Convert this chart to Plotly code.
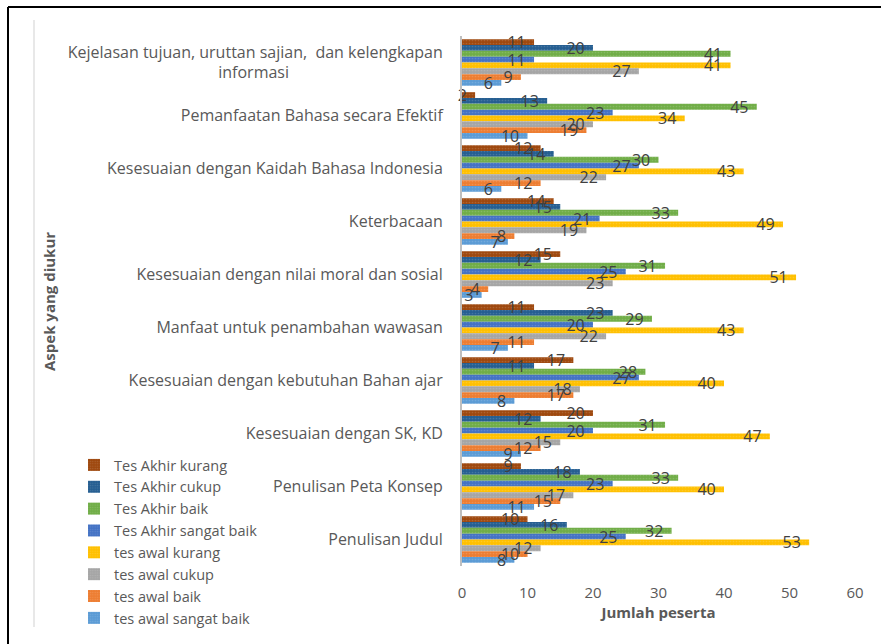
import plotly.graph_objects as go

categories = [
    "Kejelasan tujuan, uruttan sajian,  dan kelengkapan<br>informasi" + "\u00a0" * 37,
    "Pemanfaatan Bahasa secara Efektif",
    "Kesesuaian dengan Kaidah Bahasa Indonesia",
    "Keterbacaan",
    "Kesesuaian dengan nilai moral dan sosial",
    "Manfaat untuk penambahan wawasan",
    "Kesesuaian dengan kebutuhan Bahan ajar",
    "Kesesuaian dengan SK, KD",
    "Penulisan Peta Konsep",
    "Penulisan Judul",
]

series_names = [
    "Tes Akhir kurang", "Tes Akhir cukup", "Tes Akhir baik", "Tes Akhir sangat baik",
    "tes awal kurang", "tes awal cukup", "tes awal baik", "tes awal sangat baik",
]

tes_akhir_kurang = [11, 2, 12, 14, 15, 11, 17, 20, 9, 10]
tes_akhir_cukup = [20, 13, 14, 15, 12, 23, 11, 12, 18, 16]
tes_akhir_baik = [41, 45, 30, 33, 31, 29, 28, 31, 33, 32]
tes_akhir_sangat_baik = [11, 23, 27, 21, 25, 20, 27, 20, 23, 25]
tes_awal_kurang = [41, 34, 43, 49, 51, 43, 40, 47, 40, 53]
tes_awal_cukup = [27, 20, 22, 19, 23, 22, 18, 15, 17, 12]
tes_awal_baik = [9, 19, 12, 8, 4, 11, 17, 12, 15, 10]
tes_awal_sangat_baik = [6, 10, 6, 7, 3, 7, 8, 9, 11, 8]

series_values = [
    tes_akhir_kurang, tes_akhir_cukup, tes_akhir_baik, tes_akhir_sangat_baik,
    tes_awal_kurang, tes_awal_cukup, tes_awal_baik, tes_awal_sangat_baik,
]
colors = ["#9E480E", "#255E91", "#70AD47", "#4472C4",
          "#FFC000", "#A5A5A5", "#ED7D31", "#5B9BD5"]

x_ticks = [0, 10, 20, 30, 40, 50, 60]

W, H = 881, 644
L, R, T, B = 462, 26, 36, 78
pw, ph = W - L - R, H - T - B


def px(x):
    return (x - L) / pw


def py(y):
    return 1 - (y - T) / ph


FONT = "'Open Sans', sans-serif"

fig = go.Figure()
# coloured bars
for i, (name, vals, col) in enumerate(zip(series_names, series_values, colors)):
    fig.add_trace(go.Bar(
        y=categories, x=vals, name=name, orientation="h", offsetgroup=str(i),
        marker=dict(color=col, line=dict(width=0),
                    pattern=dict(shape=".", fgcolor="rgba(255,255,255,0.3)", size=3, solidity=0.25)),
        hoverinfo="skip",
    ))
# transparent twins carrying the data labels, drawn on top of all bars
for i, (name, vals) in enumerate(zip(series_names, series_values)):
    fig.add_trace(go.Bar(
        y=categories, x=vals, name=name, orientation="h", offsetgroup=str(i),
        showlegend=False, marker=dict(color="rgba(0,0,0,0)", line=dict(width=0)),
        text=[str(v) + "\u00a0\u00a0" for v in vals], textposition="inside", insidetextanchor="end",
        textangle=0, constraintext="none", cliponaxis=False,
        textfont=dict(color="#404040", size=16, family=FONT),
        insidetextfont=dict(color="#404040", size=16, family=FONT),
    ))

fig.update_layout(
    width=W, height=H,
    margin=dict(l=L, r=R, t=T, b=B, autoexpand=False),
    barmode="group", bargap=0.12, bargroupgap=0.0,
    plot_bgcolor="white", paper_bgcolor="white",
    font=dict(family=FONT, color="#595959", size=14),
    xaxis=dict(range=[0, 60], tickvals=x_ticks, showgrid=False, zeroline=False,
               showline=False, ticks="", ticklabelstandoff=16, automargin=False,
               tickfont=dict(size=15, color="#595959"),
               title=dict(text="<b>Jumlah peserta</b>", font=dict(size=15, color="#595959"), standoff=3)),
    yaxis=dict(autorange="reversed", showgrid=False, zeroline=False, showline=True,
               linecolor="#BFBFBF", linewidth=2, ticks="", ticklabelstandoff=14, automargin=False,
               tickfont=dict(size=16, color="#595959")),
    legend=dict(x=px(74), y=py(449), xanchor="left", yanchor="top",
                font=dict(size=14.5, color="#595959"), itemwidth=30, tracegroupgap=0,
                bgcolor="rgba(0,0,0,0)"),
    showlegend=True,
)

fig.add_annotation(text="<b>Aspek yang diukur</b>", xref="paper", yref="paper",
                   x=px(49), y=py(302), xanchor="center", yanchor="middle",
                   textangle=-90, showarrow=False,
                   font=dict(size=15, color="#595959", family=FONT))

# outer frame lines
fig.add_shape(type="line", xref="paper", yref="paper", x0=px(8), x1=px(881), y0=py(7), y1=py(7),
              line=dict(color="black", width=2))
fig.add_shape(type="line", xref="paper", yref="paper", x0=px(8), x1=px(8), y0=py(7), y1=py(644),
              line=dict(color="black", width=2))
fig.add_shape(type="line", xref="paper", yref="paper", x0=px(34), x1=px(34), y0=py(20), y1=py(627),
              line=dict(color="#E0E0E0", width=1.5))

fig.write_html("out.html")
